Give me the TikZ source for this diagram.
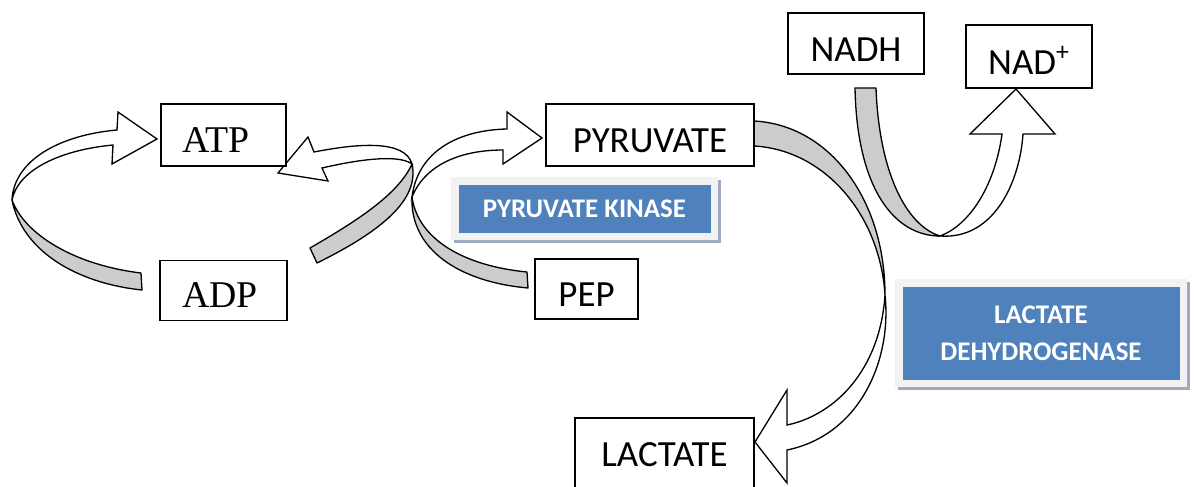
\documentclass[tikz,border=0pt]{standalone}
\usepackage{fontspec}
\setmainfont{Liberation Serif}
\newfontfamily\calibfont{Carlito}
\usepackage{tikz}
\usetikzlibrary{positioning, shadows}

\definecolor{enzblue}{RGB}{79,129,189}
\definecolor{panelgrey}{RGB}{242,242,242}
\definecolor{shadeblue}{RGB}{158,170,190}
\definecolor{ribbongrey}{RGB}{204,204,204}

\begin{document}
\begin{tikzpicture}[
    x=0.2mm, y=-0.2mm,
    box/.style={draw, fill=white, line width=0.75pt, text height=7mm, text depth=0pt, inner sep=0pt},
    serifbox/.style={box, font=\fontsize{21.5}{26}\selectfont, text width=16.6mm, inner xsep=4.2mm, align=left},
    sansbox/.style={box, font=\calibfont\fontsize{21}{26}\selectfont},
    enzbox/.style={draw=panelgrey, line width=1.5mm, fill=enzblue, text=white, align=center, inner sep=0pt,
        font=\calibfont\bfseries\fontsize{15.3}{21}\selectfont,
        drop shadow={shadow xshift=0.5mm, shadow yshift=-0.6mm, fill=shadeblue, draw=shadeblue, line width=1.5mm, opacity=1}},
    back/.style={draw, line width=0.75pt, fill=ribbongrey, line join=round},
    front/.style={draw, line width=0.75pt, fill=white, line join=miter}
]
\useasboundingbox (0,0) rectangle (1195,487);

% ADP -> ATP, outer loop
\draw[back] (141,273) -- (142,290) .. controls (75,283) and (22,250) .. (12,200) .. controls (25,235) and (75,265) .. (141,273) -- cycle;
\draw[front] (12,200) .. controls (14,160) and (60,135) .. (117,130) -- (118,112) -- (157,139) -- (112,164) -- (113,145) .. controls (60,150) and (18,170) .. (12,200) -- cycle;

% PEP -> PYRUVATE
\draw[back] (527,272) -- (528,288) .. controls (460,282) and (410,250) .. (412,197) .. controls (418,240) and (465,266) .. (527,272) -- cycle;
\draw[front] (412,197) .. controls (418,150) and (460,130) .. (507,129) -- (507,112) -- (542,138) -- (503,164) -- (503,150) .. controls (460,150) and (425,165) .. (412,197) -- cycle;

% ADP -> ATP, inner loop
\draw[back] (310,248) -- (317,263) .. controls (380,232) and (420,200) .. (412,164) .. controls (398,195) and (355,222) .. (310,248) -- cycle;
\draw[front] (412,164) .. controls (405,140) and (360,143) .. (314,152) -- (308,137) -- (278,173) -- (328,181) -- (322,168) .. controls (365,158) and (400,155) .. (412,164) -- cycle;

% PYRUVATE -> LACTATE
\draw[back] (754,121) .. controls (830,125) and (885,200) .. (885,295) .. controls (880,215) and (825,150) .. (754,146) -- cycle;
\draw[front] (885,295) .. controls (892,360) and (860,435) .. (787,450) -- (787,483) -- (755,442) -- (787,390) -- (787,425) .. controls (835,415) and (880,370) .. (885,295) -- cycle;

% NADH -> NAD+
\draw[back] (855,88) -- (876,88) .. controls (879,170) and (905,225) .. (940,236) .. controls (895,236) and (857,190) .. (855,88) -- cycle;
\draw[front] (940,236) .. controls (995,240) and (1020,180) .. (1023,134) -- (1055,134) -- (1016,89) -- (970,134) -- (1002,134) .. controls (995,185) and (970,225) .. (940,236) -- cycle;

\node[serifbox, minimum width=25mm, minimum height=12.4mm] (atp) at (223.5,135) {ATP};
\node[serifbox, minimum width=25.4mm, minimum height=12mm, below=18.6mm of atp] (adp) {ADP};
\node[sansbox, minimum width=41.6mm, minimum height=12.4mm] (pyr) at (650,135) {PYRUVATE};
\node[sansbox, minimum width=20.6mm, minimum height=12mm] (pep) at (586.5,289) {PEP};
\node[sansbox, minimum width=27.2mm, minimum height=12.2mm] (nadh) at (856,43.5) {NADH};
\node[sansbox, minimum width=25.2mm, minimum height=12.6mm] (nad) at (1029,56.5) {NAD\textsuperscript{+}};
\node[sansbox, minimum width=35.8mm, minimum height=14.4mm, text height=5mm] (lac) at (664.5,454) {LACTATE};

\node[enzbox, minimum width=51.9mm, minimum height=11.1mm] (pk) at (584.5,208.5) {PYRUVATE KINASE};
\node[enzbox, minimum width=56.9mm, minimum height=20.1mm] (ldh) at (1041,333) {LACTATE\\DEHYDROGENASE};
\end{tikzpicture}
\end{document}
